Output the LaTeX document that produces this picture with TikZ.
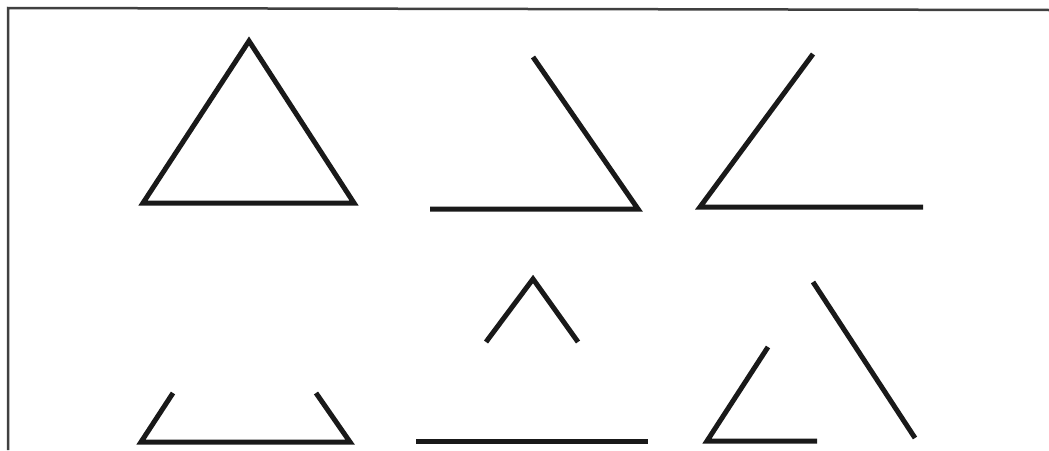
\documentclass[tikz,border=0pt]{standalone}
\begin{document}
\begin{tikzpicture}[x=1pt,y=-1pt,
  figline/.style={line width=5pt,color=black!90,line join=miter,line cap=butt},
  frameline/.style={line width=2.5pt,color=black!75}]
\useasboundingbox[fill=white] (0,0) rectangle (1049,450);
% frame
\draw[frameline] (8,450) -- (8,8) -- (1049,10);
% shape 1: full triangle
\draw[figline] (249,41) -- (354,203) -- (143,203) -- cycle;
% shape 2
\draw[figline] (533,57) -- (638,209) -- (430,209);
% shape 3
\draw[figline] (813,54) -- (700,207) -- (923,207);
% shape 4
\draw[figline] (173,393) -- (141,442) -- (350,442) -- (316,393);
% shape 5
\draw[figline] (486,342) -- (533,279) -- (578,342);
\draw[figline] (416,441) -- (648,441);
% shape 6
\draw[figline] (768,347) -- (707,441) -- (817,441);
\draw[figline] (813,282) -- (915,438);
\end{tikzpicture}
\end{document}
